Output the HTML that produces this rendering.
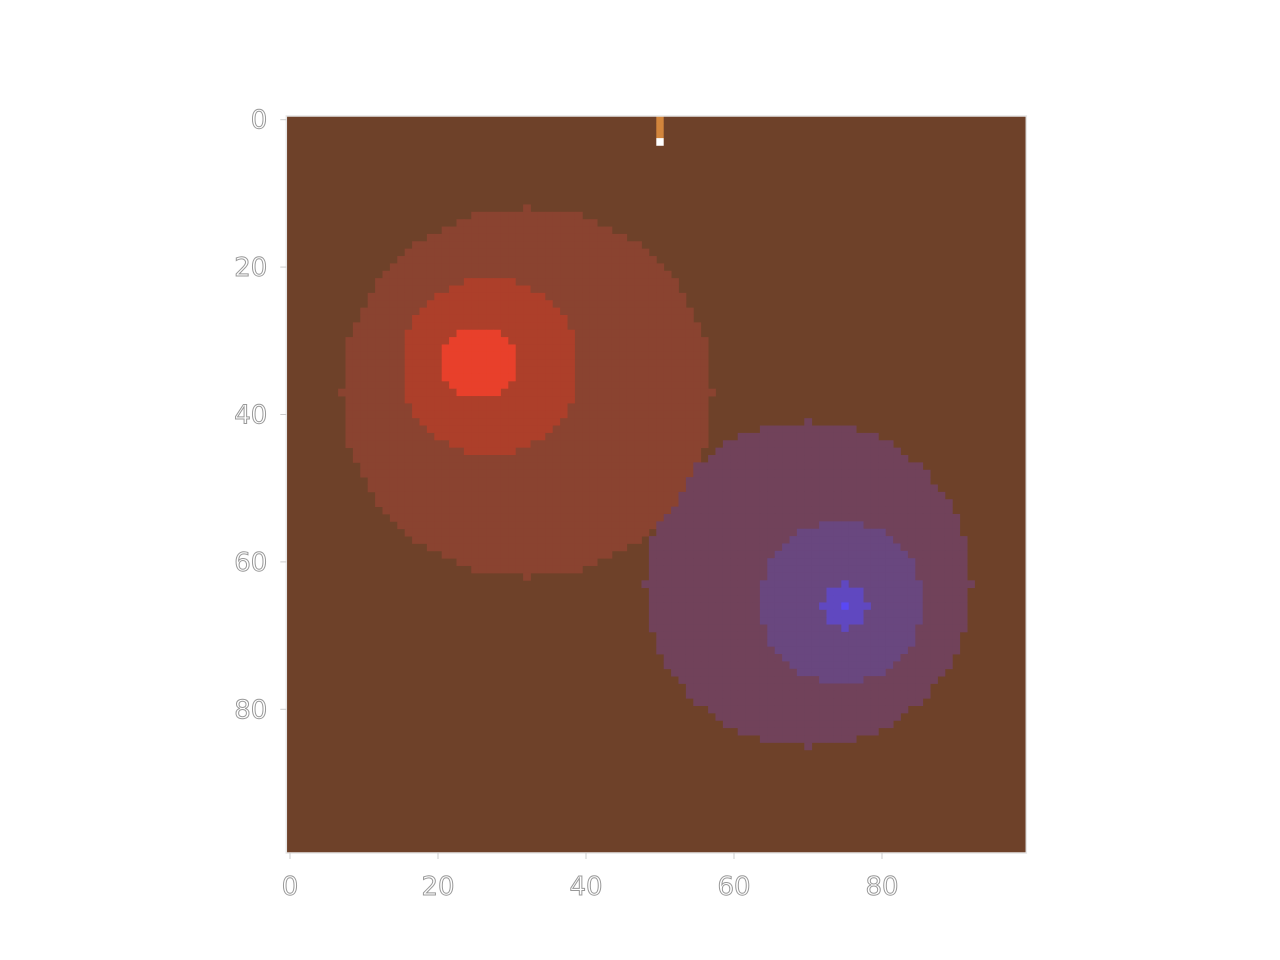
<!DOCTYPE html>
<html><head><meta charset="utf-8"><style>
body{margin:0;background:#fff;}
svg{display:block;font-family:"DejaVu Sans","Liberation Sans",sans-serif;}
</style></head><body>
<svg id="chart" width="1280" height="960">
<rect x="0" y="0" width="1280" height="960" fill="#fff"/>
<g id="cells"></g>
<g id="axes"></g>
</svg>
<script>
// Blob levels: [centerX, centerY, radius] in data cell units, ordered outer -> inner
const redCenters = [[32,37],[27,33.5],[25.5,33]];
const redRadii = [25,12,5];
const redColors = ["#8a4330","#ad3f2a","#e8402b"];
const blueCenters = [[70,63],[74.5,65.5],[75,66],[75,66]];
const blueRadii = [22,11,3,0.8];
const blueColors = ["#71425a","#69477f","#6048c0","#5a48f5"];
const bgColor = "#6e4129";
const markerCol = [50,50,50,50];
const markerRow = [0,1,2,3];
const markerColors = ["#d2853c","#d2853c","#d2853c","#ffffff"];
const xTicks = [0,20,40,60,80];
const yTicks = [0,20,40,60,80];
const N = 100;

const x0=286.3, x1=1026.3, y0=116, y1=853;
const sx = v => x0 + (v+0.5)*(x1-x0)/N;
const sy = v => y0 + (v+0.5)*(y1-y0)/N;
const cw=(x1-x0)/N, ch=(y1-y0)/N;
const NS="http://www.w3.org/2000/svg";
const cells=document.getElementById('cells');
const axes=document.getElementById('axes');
function mk(tag,attrs,parent){const e=document.createElementNS(NS,tag);for(const k in attrs)e.setAttribute(k,attrs[k]);parent.appendChild(e);return e;}

const bg=mk('rect',{x:x0,y:y0,width:x1-x0,height:y1-y0,fill:bgColor},cells);



function levelColor(c,r,centers,radii,colors){
  let col=null;
  for(let i=0;i<centers.length;i++){
    const dx=c-centers[i][0],dy=r-centers[i][1];
    if(dx*dx+dy*dy<=radii[i]*radii[i]) col=colors[i];
  }
  return col;
}
for(let r=0;r<N;r++){for(let c=0;c<N;c++){
  let col=levelColor(c,r,blueCenters,blueRadii,blueColors);
  const rc=levelColor(c,r,redCenters,redRadii,redColors);
  if(rc) col=rc;
  if(!col) continue;
  const e=mk('rect',{x:(sx(c)-cw/2).toFixed(2),y:(sy(r)-ch/2).toFixed(2),width:(cw+0.4).toFixed(2),height:(ch+0.4).toFixed(2),fill:col},cells);
  
  
}}
for(let i=0;i<markerCol.length;i++){
  const e=mk('rect',{x:sx(markerCol[i])-cw/2,y:sy(markerRow[i])-ch/2,width:cw,height:ch+0.3,fill:markerColors[i]},cells);
  
  
}
const fr=mk('rect',{x:x0,y:y0,width:x1-x0,height:y1-y0,fill:'none',stroke:'#e6e6e6','stroke-width':1.5},axes);


xTicks.forEach(t=>{
  const l=mk('line',{x1:sx(t),x2:sx(t),y1:y1,y2:y1+6,stroke:'#ccc'},axes);
  
  
  const tx=mk('text',{x:sx(t),y:y1+42,'text-anchor':'middle','font-size':26,fill:'#fff',stroke:'#999','stroke-width':1},axes);
  tx.textContent=t;
  
  
});
yTicks.forEach(t=>{
  const l=mk('line',{x1:x0-6,x2:x0,y1:sy(t),y2:sy(t),stroke:'#ccc'},axes);
  
  
  const tx=mk('text',{x:x0-19,y:sy(t)+9,'text-anchor':'end','font-size':26,fill:'#fff',stroke:'#999','stroke-width':1},axes);
  tx.textContent=t;
  
  
});
</script>
</body></html>
